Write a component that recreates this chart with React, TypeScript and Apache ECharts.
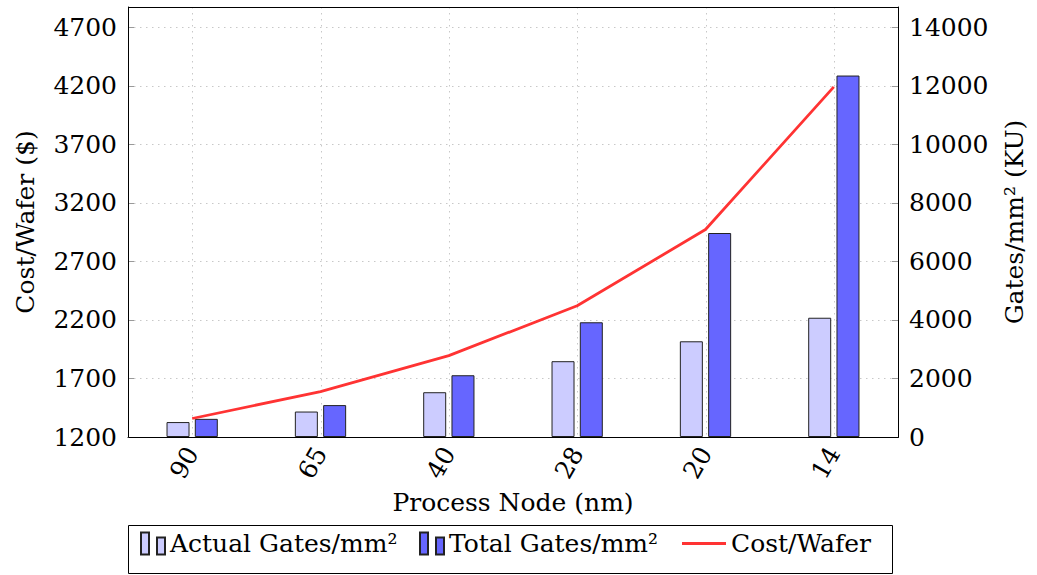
import React, { useEffect, useRef } from "react";
import * as echarts from "echarts";

const categories = ["90", "65", "40", "28", "20", "14"];
const actualGates = [510, 870, 1530, 2590, 3270, 4075];
const totalGates = [620, 1090, 2110, 3920, 6970, 12350];
const costWafer = [1358, 1588, 1895, 2321, 2972, 4191];

const leftTicks = { min: 1200, max: 4873, interval: 500 };
const rightTicks = { min: 0, max: 14692, interval: 2000 };

const FONT = "DejaVu Serif";
const FS = 25;
const barIcon = "path://M0,0h8v22h-8zM16,5h8v17h-8z";
const lineIcon = "path://M0,0h44v3h-44z";

export default function App() {
  const ref = useRef<HTMLDivElement>(null);
  useEffect(() => {
    if (!ref.current) return;
    const chart = echarts.init(ref.current, undefined, { renderer: "svg" });
    const txt = { fontFamily: FONT, fontSize: FS, color: "#000" };
    const dotted = { color: "#c8c8c8", type: [1.5, 4.5], width: 1 };
    chart.setOption({
      animation: false,
      backgroundColor: "#fff",
      textStyle: { fontFamily: FONT },
      grid: {
        left: 128,
        right: 139,
        top: 7,
        bottom: 138,
        show: false,
        containLabel: false,
        outerBoundsMode: "none",
      },
      xAxis: {
        type: "category",
        data: categories,
        name: "Process Node (nm)",
        nameLocation: "middle",
        nameGap: 53,
        nameTextStyle: txt,
        axisLine: { lineStyle: { color: "#000", width: 1 } },
        axisTick: { alignWithLabel: true, length: 10, lineStyle: { color: "#999" } },
        axisLabel: { ...txt, rotate: 60, margin: 12 },
        splitLine: { show: false },
      },
      yAxis: [
        {
          type: "value",
          min: leftTicks.min,
          max: leftTicks.max,
          interval: leftTicks.interval,
          name: "Cost/Wafer ($)",
          nameLocation: "middle",
          nameGap: 90,
          nameRotate: 90,
          nameTextStyle: txt,
          axisLine: { show: true, lineStyle: { color: "#000" } },
          axisTick: { show: true, inside: true, length: 6, lineStyle: { color: "#999" } },
          axisLabel: {
            ...txt,
            margin: 11,
            showMaxLabel: false,
            formatter: (v: number) => ((v - leftTicks.min) % leftTicks.interval === 0 ? String(v) : ""),
          },
          splitLine: { show: true, lineStyle: dotted },
        },
        {
          type: "value",
          min: rightTicks.min,
          max: rightTicks.max,
          interval: rightTicks.interval,
          position: "right",
          name: "Gates/mm² (KU)",
          nameLocation: "middle",
          nameGap: 104,
          nameRotate: 90,
          nameTextStyle: txt,
          axisLine: { show: true, lineStyle: { color: "#000" } },
          axisTick: { show: true, inside: true, length: 6, lineStyle: { color: "#999" } },
          axisLabel: {
            ...txt,
            margin: 11,
            showMaxLabel: false,
            formatter: (v: number) => (v % rightTicks.interval === 0 ? String(v) : ""),
          },
          splitLine: { show: false },
        },
      ],
      legend: [
        { data: [{ name: "Actual Gates/mm²", icon: barIcon }], left: 140, top: 531, padding: 0, itemWidth: 24, itemHeight: 22, textStyle: txt, selectedMode: false },
        { data: [{ name: "Total Gates/mm²", icon: barIcon }], left: 419, top: 531, padding: 0, itemWidth: 24, itemHeight: 22, textStyle: txt, selectedMode: false },
        { data: [{ name: "Cost/Wafer", icon: lineIcon }], left: 682, top: 531, padding: 0, itemWidth: 44, itemHeight: 3, textStyle: txt, selectedMode: false },
      ],
      graphic: [
        { type: "rect", z: 100, shape: { x: 128.5, y: 7.5, width: 770, height: 430 }, style: { fill: "none", stroke: "#000", lineWidth: 1 }, silent: true },
        { type: "rect", shape: { x: 128.5, y: 525.5, width: 764, height: 48 }, style: { fill: "none", stroke: "#000", lineWidth: 1 }, silent: true },
      ],
      series: [
        {
          type: "custom",
          silent: true,
          z: 1,
          data: categories.map((_c, i) => i),
          renderItem: (params: any, api: any) => {
            const cs = params.coordSys;
            const x = Math.round(api.coord([api.value(0), 0])[0]) + 0.5;
            return {
              type: "line",
              shape: { x1: x, y1: cs.y, x2: x, y2: cs.y + cs.height },
              style: { stroke: "#c8c8c8", lineWidth: 1, lineDash: [1.5, 4.5] },
            };
          },
        },
        {
          name: "Actual Gates/mm²",
          type: "bar",
          yAxisIndex: 1,
          data: actualGates,
          barWidth: 23,
          barGap: "23%",
          z: 2,
          itemStyle: { color: "#ccccff", borderColor: "#222", borderWidth: 1 },
        },
        {
          name: "Total Gates/mm²",
          type: "bar",
          yAxisIndex: 1,
          data: totalGates,
          barWidth: 23,
          barGap: "23%",
          z: 2,
          itemStyle: { color: "#6666ff", borderColor: "#222", borderWidth: 1 },
        },
        {
          name: "Cost/Wafer",
          type: "line",
          yAxisIndex: 0,
          data: costWafer,
          symbol: "none",
          z: 5,
          lineStyle: { color: "#ff3333", width: 2.8 },
          itemStyle: { color: "#ff3333" },
        },
      ],
    });
    return () => chart.dispose();
  }, []);
  return (
    <div ref={ref} style={{ position: "fixed", left: 0, top: 0, width: 1037, height: 575, background: "#fff" }} />
  );
}
